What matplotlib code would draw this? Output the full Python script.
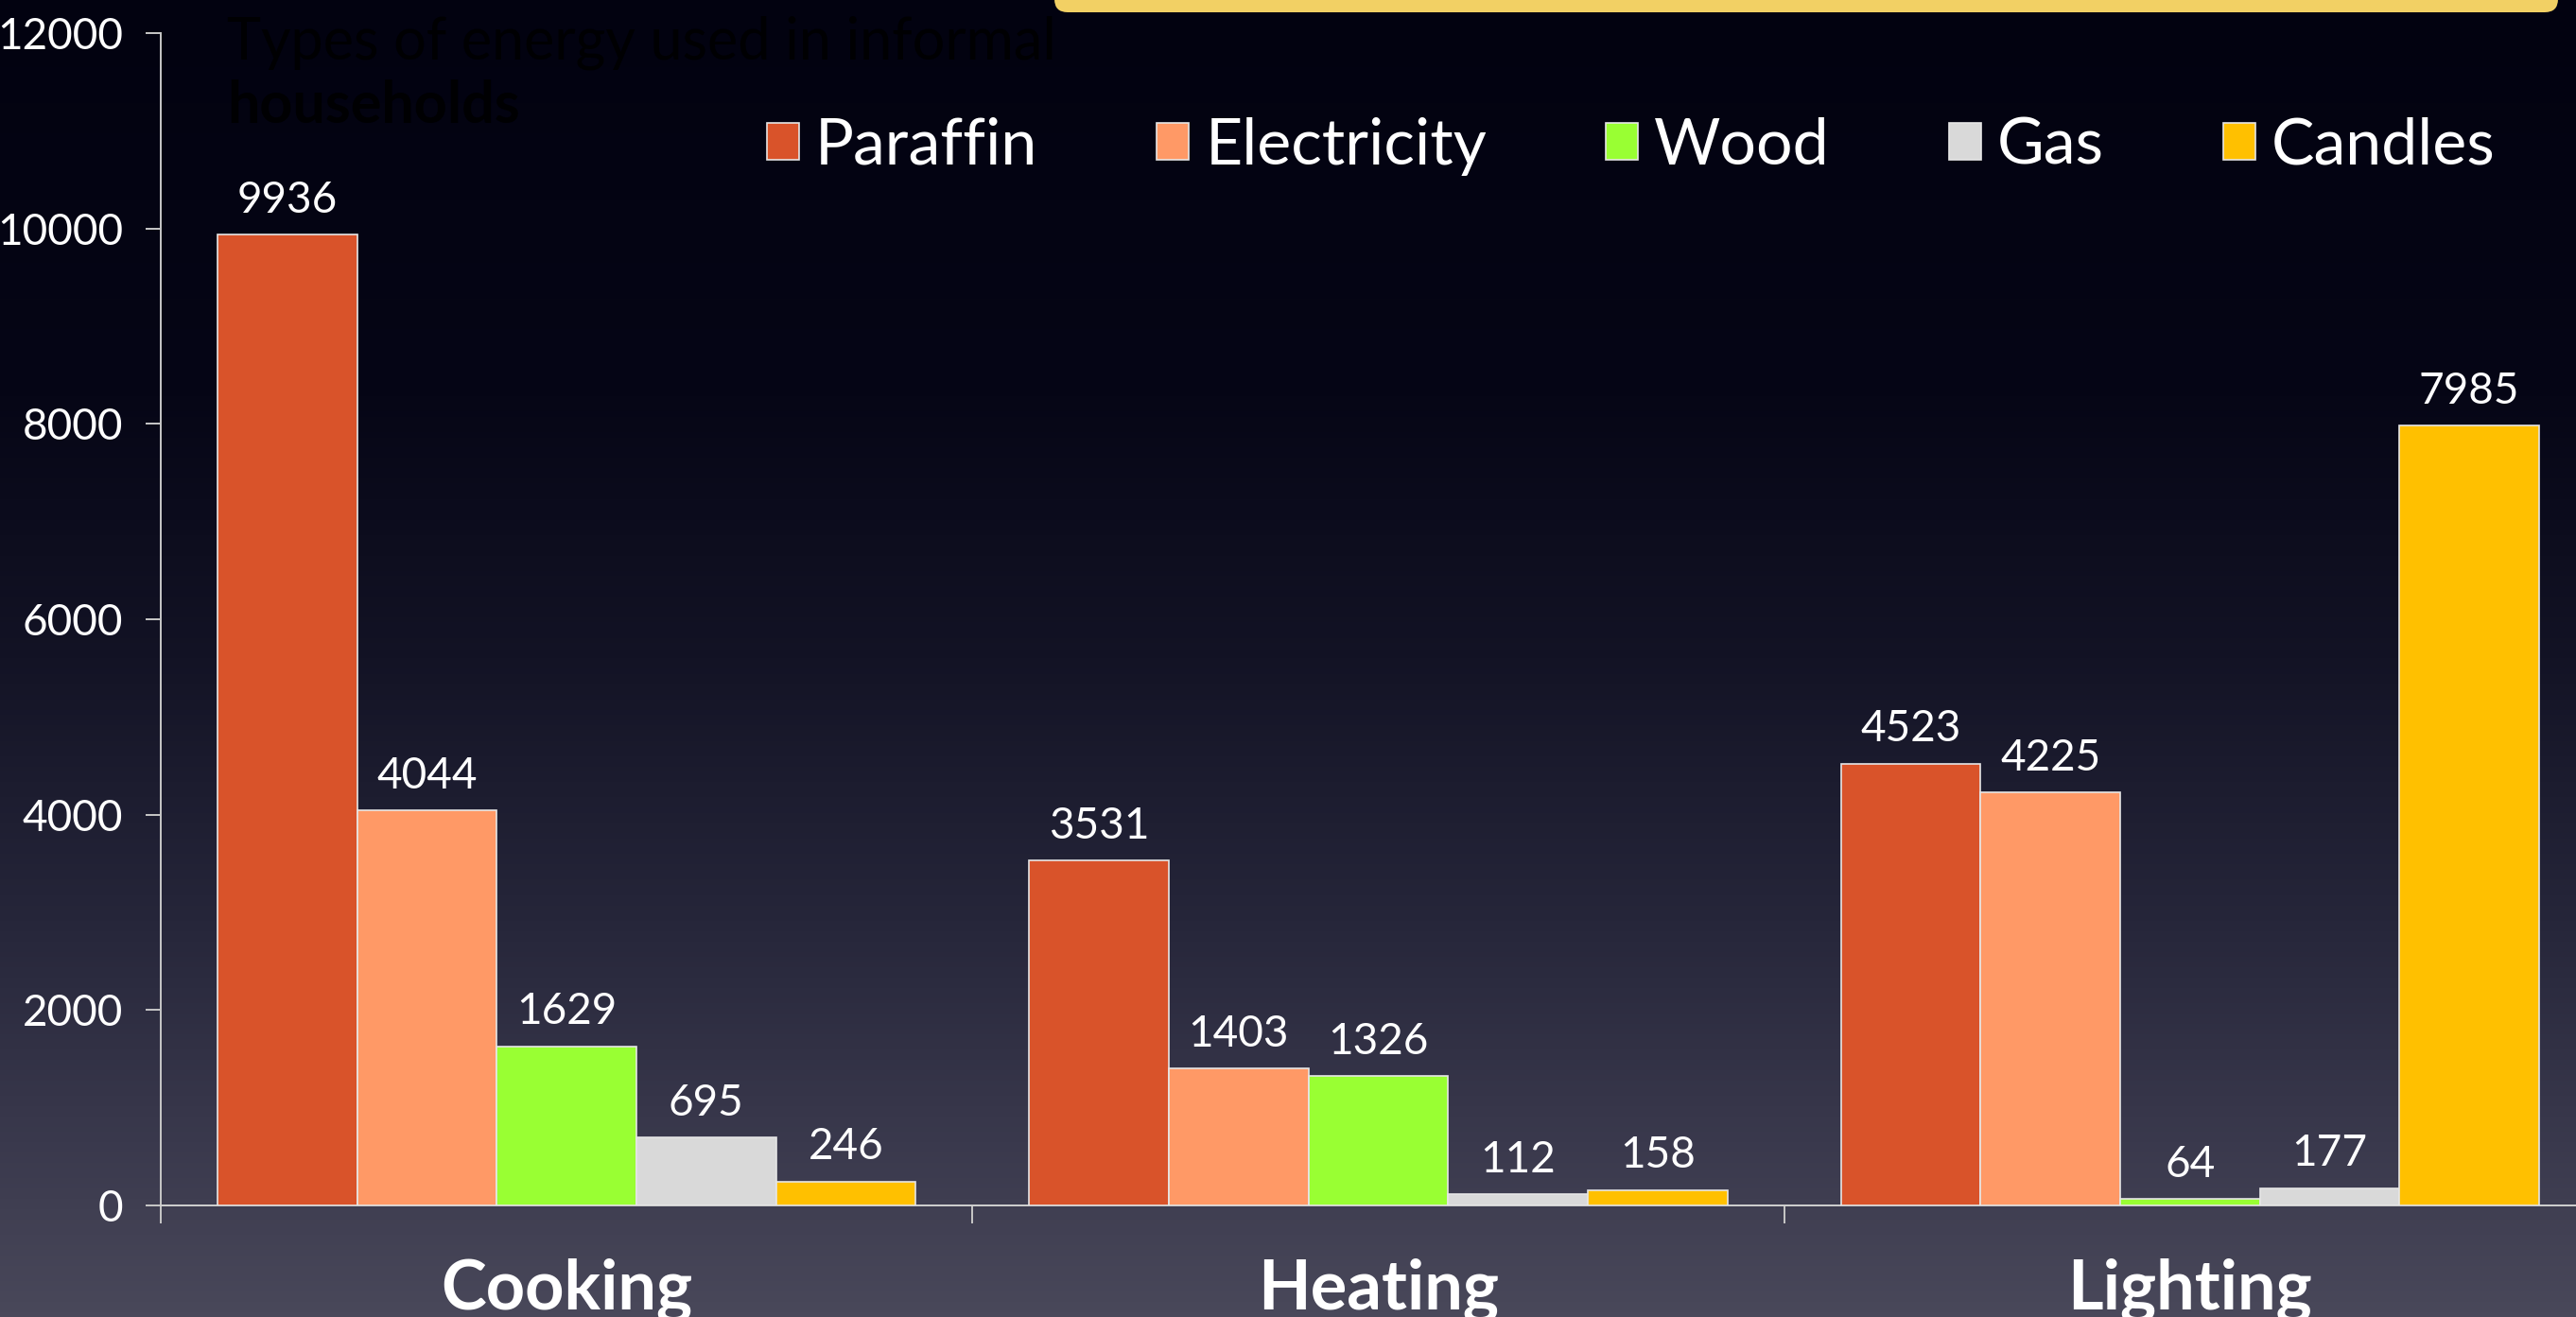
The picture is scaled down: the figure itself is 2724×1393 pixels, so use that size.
import numpy as np
import matplotlib
matplotlib.use("Agg")
import matplotlib.pyplot as plt
from matplotlib.patches import FancyBboxPatch
from matplotlib.colors import LinearSegmentedColormap
from matplotlib.transforms import IdentityTransform

categories = ["Cooking", "Heating", "Lighting"]
fuels = ["Paraffin", "Electricity", "Wood", "Gas", "Candles"]
paraffin = [9936, 3531, 4523]
electricity = [4044, 1403, 4225]
wood = [1629, 1326, 64]
gas = [695, 112, 177]
candles = [246, 158, 7985]
yticks = [0, 2000, 4000, 6000, 8000, 10000, 12000]

series = [paraffin, electricity, wood, gas, candles]
colors = ["#d9532a", "#ff9966", "#99ff33", "#d9d9d9", "#ffc000"]

W, H = 2724, 1393
fig = plt.figure(figsize=(W / 100, H / 100), dpi=100)

# background gradient
bg = fig.add_axes([0, 0, 1, 1])
bg.axis("off")
cmap = LinearSegmentedColormap.from_list(
    "bg", [(0, "#020210"), (0.3, "#060616"), (0.5, "#131325"),
           (0.7, "#26263a"), (0.85, "#38374b"), (1, "#49485a")])
grad = np.linspace(0, 1, 256).reshape(-1, 1)
bg.imshow(grad, aspect="auto", cmap=cmap, extent=[0, 1, 0, 1], origin="upper")
bg.set_xlim(0, 1)
bg.set_ylim(0, 1)

# ghost title (nearly invisible)
fig.text(240 / W, 1 - 62 / H, "Types of energy used in informal",
         fontsize=44, color="#000002", family="Lato",
         va="baseline", ha="left", zorder=2)
fig.text(240 / W, 1 - 130 / H, "households",
         fontsize=44, color="#000002", family="Lato", fontweight="bold",
         va="baseline", ha="left", zorder=2)

ax = fig.add_axes([170 / W, (H - 1275) / H, (2745 - 170) / W, (1275 - 35) / H])
ax.patch.set_alpha(0)

x = np.arange(len(categories))
bw = 0.172
for i, (vals, name, c) in enumerate(zip(series, fuels, colors)):
    bars = ax.bar(x + (i - 2) * bw, vals, bw, color=c, edgecolor="#e6e6e6",
                  linewidth=1.2, label=name, zorder=3)
    ax.bar_label(bars, padding=11, color="white", fontsize=33,
                 family="Lato")

ax.set_xlim(-0.5, 2.5)
ax.set_ylim(0, 12000)
ax.set_yticks(yticks)
ax.set_yticklabels([str(v) for v in yticks])
for s in ["top", "right"]:
    ax.spines[s].set_visible(False)
ax.spines["left"].set_color("#c8c8c8")
ax.spines["bottom"].set_color("#d0d0d0")
ax.spines["left"].set_linewidth(1.4)
ax.spines["bottom"].set_linewidth(1.4)

ax.tick_params(axis="y", direction="out", length=11.5, width=1.4,
               color="#c8c8c8", pad=17, labelcolor="white", labelsize=33)
for t in ax.get_yticklabels():
    t.set_family("Lato")

ax.set_xticks([-0.5, 0.5, 1.5, 2.5])
ax.set_xticklabels([])
ax.tick_params(axis="x", which="major", direction="out", length=14,
               width=1.4, color="#c8c8c8")
ax.set_xticks(x, minor=True)
ax.set_xticklabels(categories, minor=True)
ax.tick_params(axis="x", which="minor", length=0, pad=40,
               labelcolor="white", labelsize=52)
for t in ax.get_xticklabels(minor=True):
    t.set_family("Lato")
    t.set_fontweight("bold")
    t.set_va("top")

leg = fig.legend(loc="center left", bbox_to_anchor=(811 / W, 1 - 155 / H),
                 ncol=5, frameon=False, handlelength=0.5, handleheight=0.5,
                 handletextpad=0.25, columnspacing=1.85, borderpad=0,
                 borderaxespad=0,
                 prop={"family": "Lato", "size": 49})
for t in leg.get_texts():
    t.set_color("white")

# yellow box at top (drawn above everything)
box = FancyBboxPatch((1115, H - 13), 2705 - 1115, 60,
                     boxstyle="round,pad=0,rounding_size=14",
                     transform=IdentityTransform(), facecolor="#f2d064",
                     edgecolor="none", zorder=10)
fig.patches.append(box)

fig.savefig("out.png", dpi=100)
